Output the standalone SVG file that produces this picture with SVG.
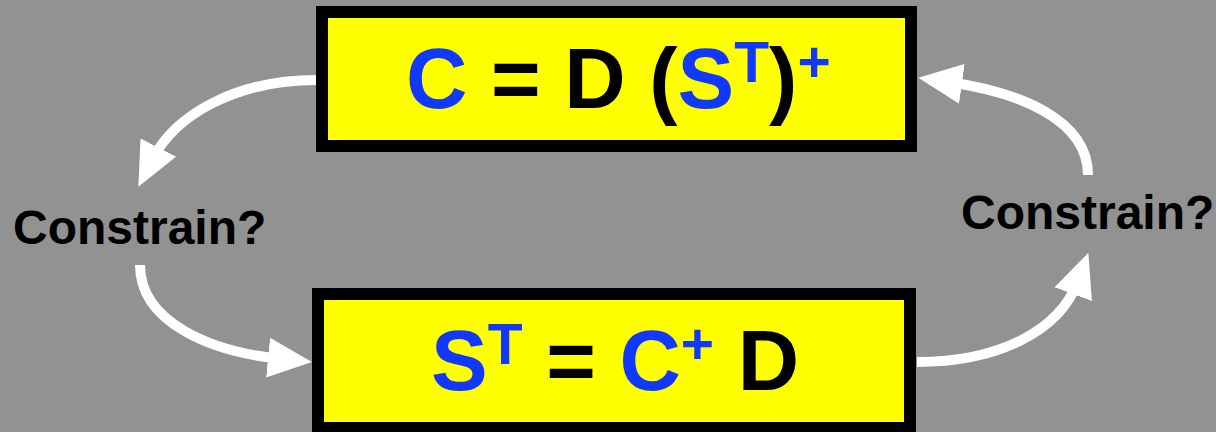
<svg xmlns="http://www.w3.org/2000/svg" width="1216" height="432" viewBox="0 0 1216 432">
<style>
.box{fill:#ffff00;stroke:#000;stroke-width:12}
.eq{font-family:"Liberation Sans",Arial,sans-serif;font-weight:bold;font-size:85px;fill:#000}
.b{fill:#1038ff}
.sup{font-size:57px}
.lbl{font-family:"Liberation Sans",Arial,sans-serif;font-weight:bold;font-size:48px;fill:#000}
.arr{fill:none;stroke:#fff;stroke-width:10;marker-end:url(#ah)}
</style>
<defs>
<marker id="ah" markerUnits="userSpaceOnUse" markerWidth="44" markerHeight="40" viewBox="0 0 44 40" refX="14" refY="20" orient="auto">
<path d="M0,0 L44,20 L0,40 Z" fill="#fff"/>
</marker>
</defs>
<rect width="1216" height="432" fill="#929292"/>
<g id="connectors">
<path class="arr" d="M317,80 C235,80 175,115 152,160"/>
<path class="arr" d="M140,265 C140,322 210,352 282,359"/>
<path class="arr" d="M1088,175 C1088,120 1020,92 948,82"/>
<path class="arr" d="M917,362 C1000,362 1060,330 1078,281"/>
</g>
<g id="node-top">
<rect class="box" x="322" y="12" width="589" height="134"/>
<text class="eq" x="406" y="108"><tspan class="b">C</tspan> = D (<tspan class="b">S</tspan><tspan class="b sup" y="82">T</tspan><tspan y="108">)</tspan><tspan class="sup" y="82" fill="#1038ff">+</tspan></text>
</g>
<g id="node-bottom">
<rect class="box" x="318" y="294" width="592" height="134"/>
<text class="eq" x="431" y="390"><tspan class="b">S</tspan><tspan class="b sup" y="364">T</tspan><tspan y="390"> = </tspan><tspan class="b">C</tspan><tspan class="b sup" y="364">+</tspan><tspan y="390"> D</tspan></text>
</g>
<g id="label-left">
<text class="lbl" x="13" y="244">Constrain?</text>
</g>
<g id="label-right">
<text class="lbl" x="961" y="229">Constrain?</text>
</g>
</svg>
